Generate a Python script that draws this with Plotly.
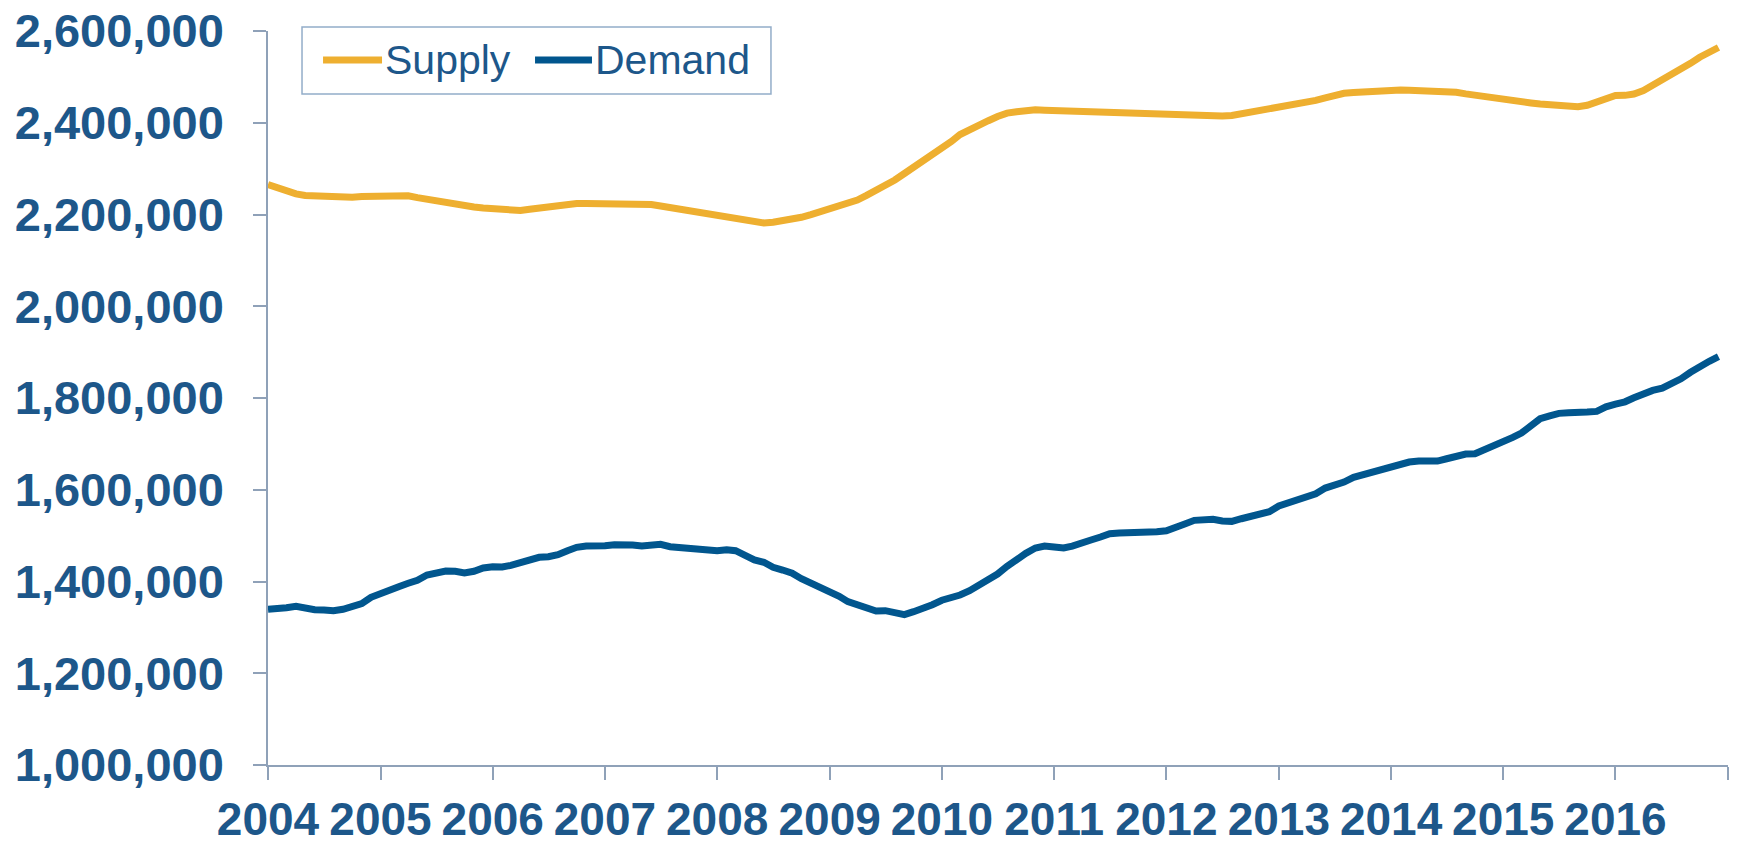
import pandas as pd
import plotly.graph_objects as go

# Monthly observations, Jan 2004 .. Dec 2016
months = pd.date_range("2004-01-01", periods=156, freq="MS")

supply = [
    2265300, 2258800, 2250100, 2245000, 2241300, 2239900, 2239200, 2238400, 2238400, 2237700, 2239200, 2239900,
    2240600, 2241300, 2242800, 2240800, 2236800, 2232900, 2228900, 2225100, 2221100, 2218300, 2216300, 2214200,
    2212200, 2210200, 2208100, 2208700, 2211400, 2214200, 2217000, 2219800, 2222500, 2223900, 2223900, 2223900,
    2223900, 2223900, 2223900, 2223900, 2223900, 2221800, 2218500, 2215300, 2212000, 2208700, 2205500, 2202000,
    2198700, 2195300, 2191900, 2188400, 2185000, 2181600, 2183200, 2186100, 2189400, 2193900, 2199900, 2205700,
    2211300, 2216900, 2222400, 2231600, 2241800, 2252100, 2262400, 2275200, 2289400, 2302600, 2314800, 2329400,
    2344400, 2359300, 2374200, 2385700, 2395000, 2404400, 2413700, 2420900, 2423900, 2426700, 2428400, 2427500,
    2426700, 2425800, 2424900, 2424000, 2423100, 2422300, 2421500, 2420700, 2419900, 2419200, 2418400, 2417700,
    2417600, 2417400, 2417200, 2416800, 2416000, 2415300, 2414500, 2415800, 2419400, 2422900, 2426500, 2430100,
    2433000, 2435500, 2438200, 2442900, 2448600, 2454300, 2459900, 2464200, 2465900, 2467700, 2469400, 2471200,
    2472000, 2471500, 2471000, 2470400, 2469800, 2469200, 2468300, 2466500, 2463000, 2459700, 2456400, 2453000,
    2450100, 2447800, 2445500, 2443100, 2440700, 2438400, 2435900, 2434200, 2435100, 2438100, 2444200, 2453300,
    2459300, 2459700, 2462700, 2470200, 2481600, 2492200, 2501500, 2513800, 2529400, 2542800, 2555000, 2564000,
]

demand = [
    1339500, 1340100, 1343000, 1346000, 1341600, 1338600, 1338000, 1336400, 1339500, 1345100, 1351700, 1365600,
    1375000, 1380800, 1388700, 1396100, 1402600, 1414200, 1419200, 1422900, 1422200, 1418600, 1422200, 1429400,
    1432300, 1431600, 1435300, 1442500, 1449000, 1452700, 1454000, 1458400, 1467100, 1474500, 1477300, 1476600,
    1477900, 1480100, 1481000, 1479500, 1477300, 1480100, 1481000, 1475800, 1473700, 1473000, 1471500, 1470200,
    1467100, 1469300, 1467100, 1457100, 1446900, 1442000, 1431000, 1425000, 1417900, 1406200, 1396800, 1386600,
    1377100, 1367800, 1356000, 1348200, 1341600, 1335700, 1336400, 1332100, 1327700, 1334200, 1340100, 1349500,
    1359100, 1364100, 1370600, 1380000, 1391700, 1402600, 1416300, 1433100, 1449000, 1461400, 1473000, 1477300,
    1475200, 1473000, 1477300, 1486000, 1490400, 1496900, 1504200, 1505700, 1506300, 1505000, 1504200, 1508500,
    1510700, 1516600, 1525300, 1533300, 1534000, 1535500, 1531800, 1531100, 1536800, 1541200, 1545600, 1552100,
    1564500, 1571000, 1575400, 1581300, 1591300, 1603700, 1609600, 1616800, 1627000, 1632700, 1637900, 1645800,
    1652300, 1658200, 1660400, 1662600, 1662600, 1662600, 1667600, 1674100, 1677800, 1678500, 1687200, 1693100,
    1703300, 1714200, 1723600, 1737300, 1754700, 1761200, 1766500, 1767800, 1767100, 1769300, 1770800, 1780800,
    1786700, 1791700, 1800500, 1810700, 1816600, 1821600, 1831000, 1841800, 1856000, 1870000, 1880000, 1890000,
]

year_ticks = [f"{y}-01-01" for y in range(2004, 2018)]
year_labels = [str(y) for y in range(2004, 2017)] + [""]

series_names = ["Supply", "Demand"]
series_colors = ["#EEAF30", "#01568E"]

TEXT = "#1D578A"
AXIS = "#8FA1B8"
FONT = "Liberation Sans, Arial, sans-serif"

fig = go.Figure()
for name, values, color in zip(series_names, [supply, demand], series_colors):
    fig.add_trace(go.Scatter(x=months, y=values, name=name, mode="lines",
                             line=dict(color=color, width=7)))

# Legend drawn by hand so the line samples can be as long as in the original
legend_box = dict(x0=0.0233, x1=0.3445, y0=0.9142, y1=1.0054)
sample_x = [(0.0377, 0.0781), (0.1829, 0.2219)]
legend_y = 0.9605
shapes = [dict(type="rect", xref="paper", yref="paper", **legend_box,
               line=dict(color="#93ADC9", width=1.5), fillcolor="white", layer="above")]
annotations = []
for (x0, x1), name, color in zip(sample_x, series_names, series_colors):
    shapes.append(dict(type="line", xref="paper", yref="paper", x0=x0, x1=x1,
                       y0=legend_y, y1=legend_y, line=dict(color=color, width=7), layer="above"))
    annotations.append(dict(text=name, xref="paper", yref="paper", x=x1 + 0.0005, y=legend_y,
                            xanchor="left", yanchor="middle", showarrow=False,
                            font=dict(size=41, color=TEXT, family=FONT)))

# the page body adds an 8px offset, so the figure is 8px smaller than the window
fig.update_layout(
    width=1732, height=833,
    margin=dict(l=260, r=12, t=23, b=76),
    paper_bgcolor="white", plot_bgcolor="white",
    font=dict(family=FONT, color=TEXT),
    showlegend=False,
    shapes=shapes,
    annotations=annotations,
)

fig.update_xaxes(
    range=["2004-01-01", "2017-01-01"],
    tickmode="array", tickvals=year_ticks, ticktext=year_labels,
    showgrid=False, zeroline=False, automargin=False,
    showline=True, linecolor=AXIS, linewidth=1.5,
    ticks="outside", ticklen=13, tickwidth=1.5, tickcolor=AXIS,
    tickfont=dict(size=46, color=TEXT, family=FONT, weight="bold"),
    ticklabelstandoff=0, ticklabeloverflow="allow",
)
fig.update_yaxes(
    range=[1000000, 2600000], dtick=200000, tickformat=",",
    showgrid=False, zeroline=False, automargin=False,
    showline=True, linecolor=AXIS, linewidth=1.5,
    ticks="outside", ticklen=13, tickwidth=1.5, tickcolor=AXIS,
    tickfont=dict(size=47, color=TEXT, family=FONT, weight="bold"),
    ticklabelstandoff=20, ticklabeloverflow="allow",
)

fig.write_html("out.html")
